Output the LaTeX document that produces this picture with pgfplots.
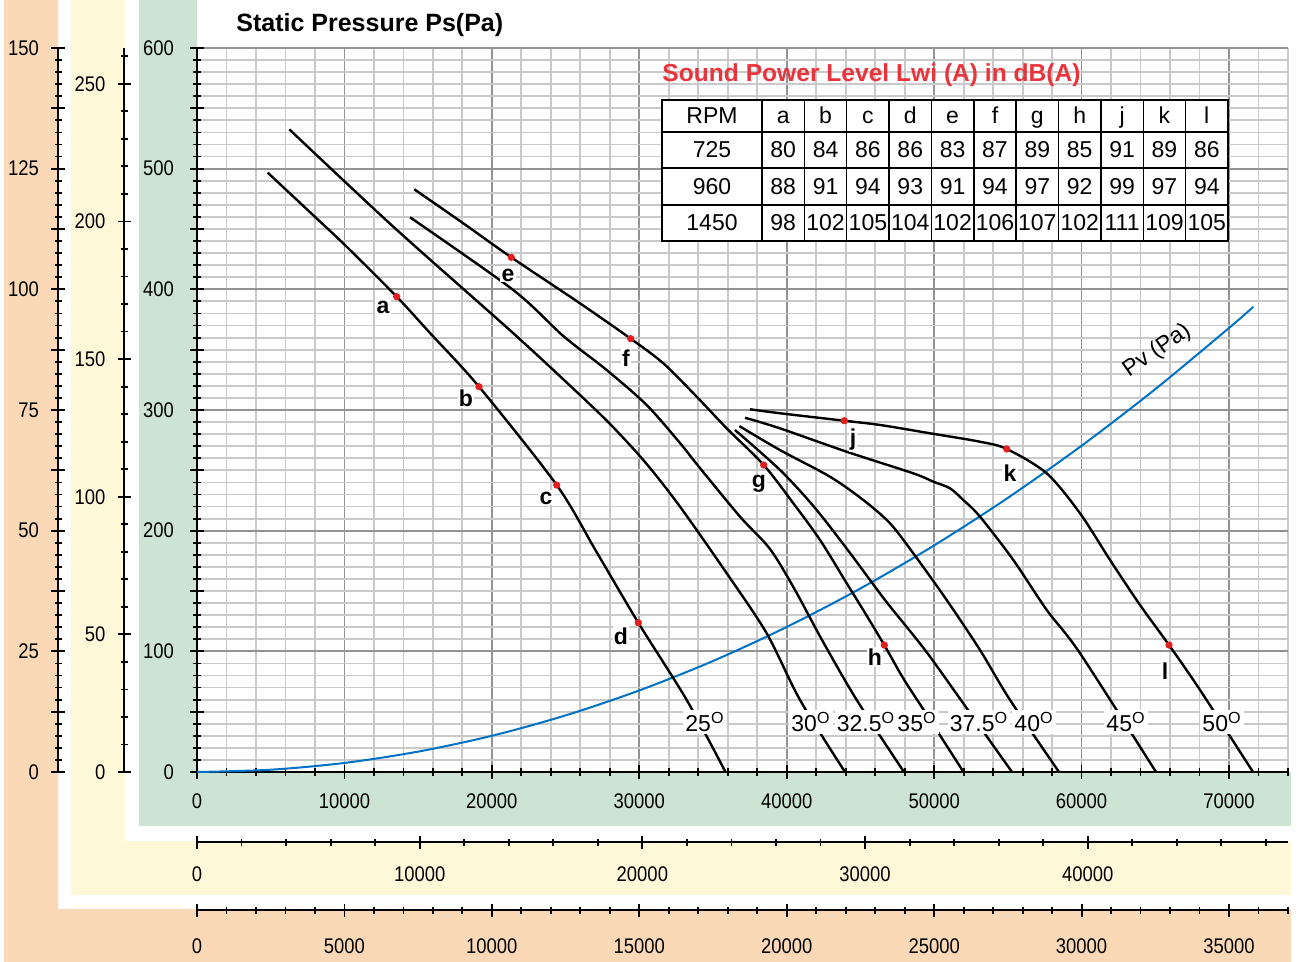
\documentclass[border=0pt]{standalone}
\usepackage{pgfplots}
\pgfplotsset{compat=1.18}
\usepackage{fontspec}
\setmainfont{Liberation Sans}
\newfontfamily\tickfont[FakeStretch=0.87]{Liberation Sans}

\definecolor{peach}{RGB}{252,217,182}
\definecolor{cream}{RGB}{255,248,216}
\definecolor{mint}{RGB}{205,228,213}
\definecolor{pvblue}{RGB}{0,114,198}
\definecolor{dotred}{RGB}{226,30,30}
\definecolor{titlered}{RGB}{232,52,60}

\pgfplotsset{
  fanaxis/.style={
    scale only axis,
    tick align=outside,
    tick style={black, line width=0.9pt},
    tick label style={font=\fontsize{10.6}{12}\selectfont\tickfont},
    /pgf/number format/assume math mode=true,
    /pgf/number format/set thousands separator={},
    scaled x ticks=false, scaled y ticks=false,
    major tick length=7pt,
    minor tick length=4pt,
  },
}

\begin{document}
\begin{tikzpicture}
% background bands (1 unit = one pixel of a 1305 x 962 sheet)
\begin{scope}[x=0.5pt,y=-0.5pt]
  \useasboundingbox (0,0) rectangle (1305,962);
  \fill[peach] (4,0) -- (58,0) -- (58,909) -- (1291,909) -- (1291,962) -- (4,962) -- cycle;
  \fill[cream] (71,0) -- (125,0) -- (125,841) -- (1291,841) -- (1291,895) -- (71,895) -- cycle;
  \fill[mint] (139,0) -- (197,0) -- (197,772) -- (1291,772) -- (1291,826) -- (139,826) -- cycle;
\end{scope}

% 725 rpm pressure scale
\begin{axis}[fanaxis, at={(29pt,-386pt)}, anchor=south west,
  width=10pt, height=362pt, xmin=0, xmax=1, ymin=0, ymax=150,
  axis y line=left, axis x line=none, xtick=\empty,
  axis line style={black, line width=1pt, -},
  ytick={0,25,...,150}, minor ytick={0,2.5,...,150},
  extra y ticks={12.5,37.5,...,137.5}, extra y tick labels={},
  yticklabel style={xshift=-2.5pt},
  minor tick length=3.5pt]
\end{axis}

% 960 rpm pressure scale
\begin{axis}[fanaxis, at={(62pt,-386pt)}, anchor=south west,
  width=10pt, height=362pt, xmin=0, xmax=1, ymin=0, ymax=263.0,
  axis y line=left, axis x line=none, xtick=\empty,
  axis line style={black, line width=1pt, -},
  ytick={0,50,...,250}, minor ytick={0,10,...,260},
  yticklabel style={xshift=-2.5pt},
  major tick length=6.5pt, minor tick length=3.5pt]
\end{axis}

% 960 rpm flow scale
\begin{axis}[fanaxis, at={(98.5pt,-421pt)}, anchor=south west,
  width=545.5pt, height=10pt, xmin=0, xmax=48993, ymin=0, ymax=1,
  axis x line=bottom, axis y line=none, ytick=\empty,
  axis line style={black, line width=1pt, -},
  xtick={0,10000,...,40000}, minor xtick={0,2000,...,48000},
  xticklabel style={yshift=-5.5pt},
  major tick length=6.5pt, minor tick length=3.5pt]
\end{axis}

% 725 rpm flow scale
\begin{axis}[fanaxis, at={(98.5pt,-455pt)}, anchor=south west,
  width=545.5pt, height=10pt, xmin=0, xmax=37000, ymin=0, ymax=1,
  axis x line=bottom, axis y line=none, ytick=\empty,
  axis line style={black, line width=1pt, -},
  xtick={0,5000,...,35000}, minor xtick={0,1000,...,37000},
  xticklabel style={yshift=-7.5pt},
  major tick length=6.5pt, minor tick length=3.5pt]
\end{axis}

% 1450 rpm characteristic curves
\begin{axis}[fanaxis, at={(98.5pt,-386pt)}, anchor=south west,
  width=545.5pt, height=362pt,
  xmin=0, xmax=74000, ymin=0, ymax=600,
  axis lines=left,
  axis line style={black, line width=1pt, -},
  xtick={0,10000,...,70000}, minor xtick={0,2000,...,74000},
  ytick={0,100,...,600}, minor ytick={0,10,...,600},
  extra y ticks={50,150,...,550}, extra y tick labels={},
  extra y tick style={grid=none},
  xticklabel style={yshift=-4pt},
  yticklabel style={xshift=-4.5pt},
  grid=both,
  minor grid style={gray!42, line width=0.9pt},
  major grid style={gray!85, line width=0.9pt},
  every axis plot/.append style={line join=round},
]
% dynamic pressure
\addplot[pvblue, line width=1pt, smooth] coordinates {
  (0,0) (5000,1.9) (10000,7.5) (15000,16.9) (20000,30.0) (25000,46.9)
  (30000,67.6) (35000,92.0) (40000,120.2) (45000,152.1) (50000,187.8)
  (55000,227.2) (60000,270.4) (65000,317.3) (70000,368.0) (71650,385.5)};

% 25 deg
\addplot[black, line width=1.2pt, smooth, tension=0.5] coordinates {
  (4795,496.7) (7868,461.6) (10154,435.3) (13545,393.9) (15804,363.8)
  (19128,319.3) (24398,237.8) (27064,183.1) (29933,123.7)
  (33216,59.7) (35848,0)};
% 30 deg
\addplot[black, line width=1.2pt, smooth, tension=0.5] coordinates {
  (6261,532.6) (13315,451.9) (21454,363.6) (25979,312.4) (28217,285.9)
  (30503,255.2) (32762,219.9) (35929,164.7) (38642,114.9) (40902,59.7)
  (43953,0)};
% 32.5 deg
\addplot[black, line width=1.2pt, smooth, tension=0.5] coordinates {
  (14448,459.7) (21454,399.4) (24846,361.3) (27790,333.1) (30503,304.1)
  (32762,272.6) (33895,255.2) (36831,211.6) (38866,184.8) (40563,150.8)
  (42394,109.4) (44747,59.7) (47955,0)};
% 35 deg
\addplot[black, line width=1.2pt, smooth, tension=0.5] coordinates {
  (14739,482.9) (18063,454.7) (21319,426.5) (25978,388.4)
  (29417,359.1) (31629,338.7) (33894,311.0) (35929,284.8) (38439,254.4)
  (40447,222.7) (42258,192.3) (44068,156.4) (45310,131.8) (46619,105.2)
  (47890,77.9) (49382,49.7) (51991,0)};
% 37.5 deg
\addplot[black, line width=1.2pt, smooth, tension=0.5] coordinates {
  (36492,283.4) (39544,250.3) (41918,218.8) (44292,181.5) (46666,142.5)
  (49380,101.1) (51957,57.2) (55280,0)};
% 40 deg
\addplot[black, line width=1.2pt, smooth, tension=0.5] coordinates {
  (36784,286.7) (39544,266.8) (42935,244.7) (45194,225.4) (47005,206.1)
  (48586,181.2) (50851,142.5) (53110,101.1) (55145,59.7) (58469,0)};
% 45 deg
\addplot[black, line width=1.2pt, smooth, tension=0.5] coordinates {
  (37170,293.6) (39544,284.8) (44068,265.4) (48586,247.5) (49943,240.6)
  (51075,235.1) (51977,225.4) (53110,211.6) (55368,175.7) (57634,134.3)
  (59893,98.4) (65047,0)};
% 50 deg
\addplot[black, line width=1.2pt, smooth, tension=0.5] coordinates {
  (37509,300.6) (39544,297.3) (43906,291.1) (46327,287.6) (49719,280.7)
  (53110,273.7) (54921,267.7) (57634,247.5) (59893,214.4) (61928,175.7)
  (63963,138.4) (65930,105.2) (68032,68.0) (71627,0)};

% sound power measuring points a ... l
\addplot[only marks, mark=*, mark size=1.6pt, dotred, mark options={draw=none, fill=dotred}] coordinates {
  (13545,393.9) (19128,319.3) (24398,237.8) (29933,123.7)
  (21319,426.5) (29417,359.1) (38439,254.4) (46619,105.2)
  (43906,291.1) (54921,267.7) (65930,105.2)};

\begin{scope}[every node/.style={font=\fontsize{11.5}{13}\selectfont\bfseries, fill=white, inner sep=0.6pt}]
  \node at (axis cs:12616,385.4) {a};
  \node at (axis cs:18246,309.9) {b};
  \node at (axis cs:23672,227.1) {c};
  \node at (axis cs:28759,112.7) {d};
  \node at (axis cs:21095,411.9) {e};
  \node at (axis cs:29099,343.1) {f};
  \node at (axis cs:38120,238.7) {g};
  \node at (axis cs:45988,95.3) {h};
  \node at (axis cs:44496,275.1) {j};
  \node at (axis cs:55145,247.8) {k};
  \node at (axis cs:65658,83.7) {l};
\end{scope}

\begin{scope}[every node/.style={font=\fontsize{11.5}{13}\selectfont, fill=white, inner sep=1pt}]
  \node at (axis cs:34455,41.4) {25\textsuperscript{O}};
  \node at (axis cs:41647,41.4) {30\textsuperscript{O}};
  \node at (axis cs:45378,41.4) {32.5\textsuperscript{O}};
  \node at (axis cs:48837,41.4) {35\textsuperscript{O}};
  \node at (axis cs:53043,41.4) {37.5\textsuperscript{O}};
  \node at (axis cs:56773,41.4) {40\textsuperscript{O}};
  \node at (axis cs:63013,41.4) {45\textsuperscript{O}};
  \node at (axis cs:69525,41.4) {50\textsuperscript{O}};
\end{scope}

\node[rotate=35, font=\fontsize{11.5}{13}\selectfont] at (axis cs:65116,349.0) {Pv (Pa)};
\end{axis}

% titles and sound power table
\begin{scope}[x=0.5pt,y=-0.5pt]
  \node[anchor=base west, inner sep=0pt, font=\fontsize{12.5}{14}\selectfont\bfseries] at (236,32) {Static Pressure Ps(Pa)};
  \node[anchor=base west, inner sep=0pt, text=titlered, font=\fontsize{12.3}{14}\selectfont\bfseries] at (662,82) {Sound Power Level Lwi (A) in dB(A)};

  \fill[white] (662,100) rectangle (1228,241);
  \draw[line width=0.75pt] (662,100) rectangle (1228,241);
  \foreach \yy in {132,168,205} \draw[line width=0.75pt] (662,\yy) -- (1228,\yy);
  \foreach \i in {0,...,10} \draw[line width=0.75pt] ({762+\i*42.36},100) -- ({762+\i*42.36},241);

  \begin{scope}[every node/.style={font=\fontsize{11.5}{13}\selectfont, anchor=base, inner sep=0pt}]
    \node at (712,124) {RPM};
    \node at (712,158) {725};
    \node at (712,194.5) {960};
    \node at (712,231) {1450};
    \foreach \t [count=\i from 0] in {a,b,c,d,e,f,g,h,j,k,l}
      \node at ({783.18+\i*42.36},124) {\t};
    \foreach \t [count=\i from 0] in {80,84,86,86,83,87,89,85,91,89,86}
      \node at ({783.18+\i*42.36},158) {\t};
    \foreach \t [count=\i from 0] in {88,91,94,93,91,94,97,92,99,97,94}
      \node at ({783.18+\i*42.36},194.5) {\t};
    \foreach \t [count=\i from 0] in {98,102,105,104,102,106,107,102,111,109,105}
      \node at ({783.18+\i*42.36},231) {\t};
  \end{scope}
\end{scope}
\end{tikzpicture}
\end{document}
